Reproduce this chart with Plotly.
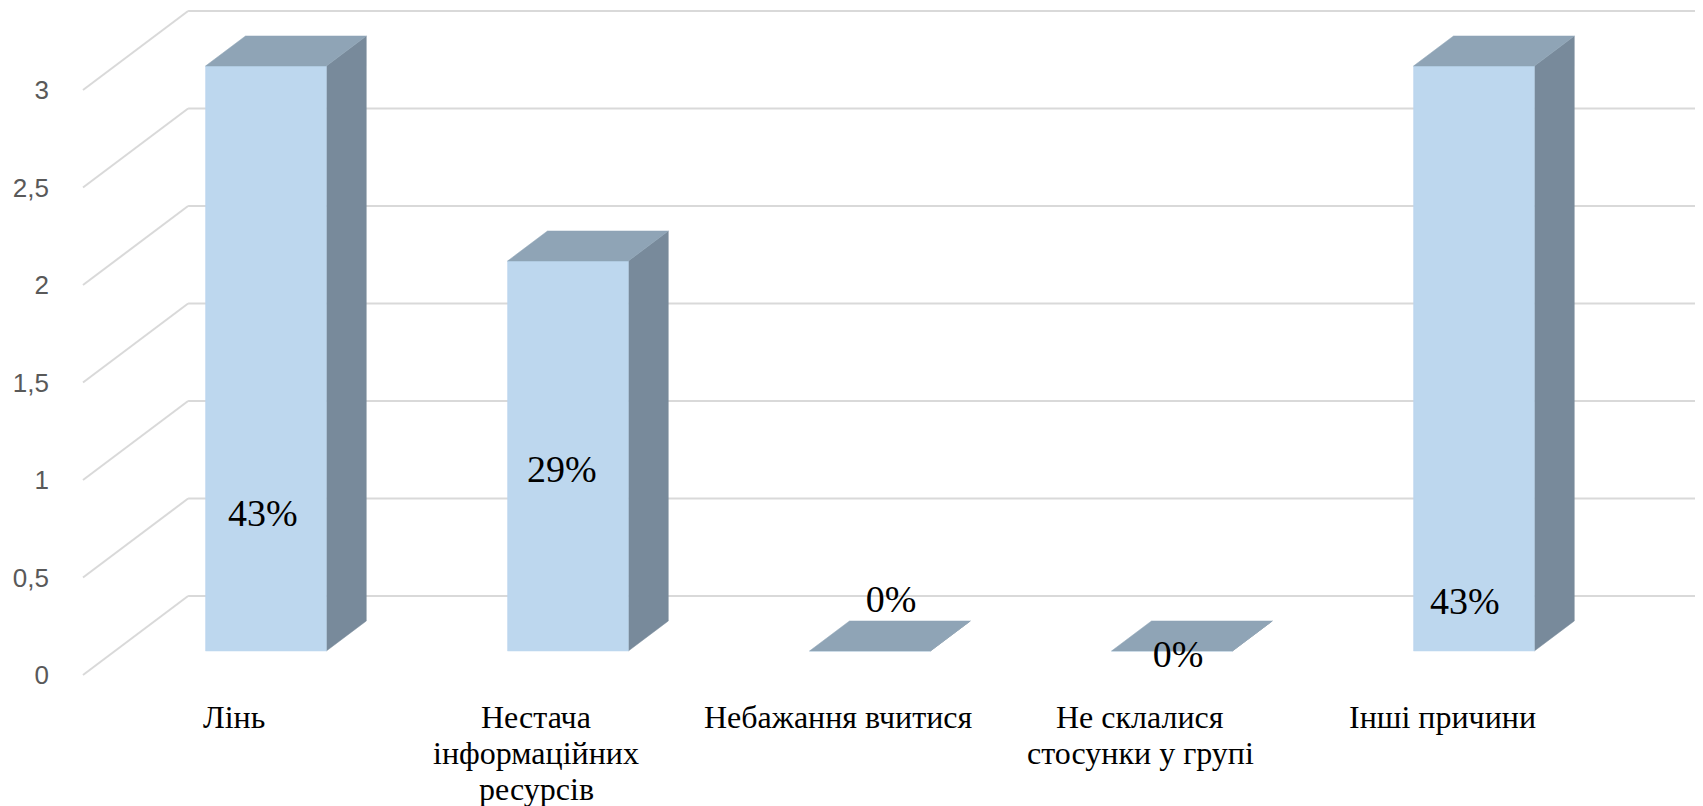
import plotly.graph_objects as go

categories = [
    "Лінь",
    "Нестача<br>інформаційних<br>ресурсів",
    "Небажання вчитися",
    "Не склалися<br>стосунки у групі",
    "Інші причини",
]
values = [3, 2, 0, 0, 3]
value_labels = ["43%", "29%", "0%", "0%", "43%"]
y_ticks = [0, 0.5, 1, 1.5, 2, 2.5, 3]
y_tick_text = ["0", "0,5", "1", "1,5", "2", "2,5", "3"]

# where the data labels sit (value units on the front plane, small x nudge)
label_y = [0.815, 1.04, 0.37, 0.09, 0.36]
label_dx = [-0.01, -0.02, 0.07, 0.02, -0.03]

# oblique "3D" look: one unit of depth moves x by DX (categories) and y by DY (values)
DX = 0.348
DY = 0.405
BAR_W = 0.4
Z_FRONT, Z_BACK = 0.304, 0.684

GRID = '#D9D9D9'
FRONT = '#BDD7EE'
TOP = '#8FA4B6'
SIDE = '#788A9B'
SERIF = 'Liberation Serif, Times New Roman, serif'


def proj(x, y, z):
    return x + DX * z, y + DY * z


def poly(points):
    xs, ys = [], []
    for p in points:
        px, py = proj(*p)
        xs.append(px)
        ys.append(py)
    xs.append(xs[0])
    ys.append(ys[0])
    return xs, ys


fig = go.Figure()

# back wall gridlines + diagonals on the left side wall
n = len(categories)
gx, gy = [], []
for t in y_ticks:
    for a, b in [((0, t, 0), (0, t, 1)), ((0, t, 1), (n, t, 1))]:
        x0, y0 = proj(*a)
        x1, y1 = proj(*b)
        gx += [x0, x1, None]
        gy += [y0, y1, None]
fig.add_trace(go.Scatter(x=gx, y=gy, mode='lines', line=dict(color=GRID, width=2),
                         hoverinfo='skip', showlegend=False))

for i, v in enumerate(values):
    x0 = i + 0.5 - BAR_W / 2
    x1 = x0 + BAR_W
    faces = [
        ([(x1, 0, Z_FRONT), (x1, 0, Z_BACK), (x1, v, Z_BACK), (x1, v, Z_FRONT)], SIDE),
        ([(x0, 0, Z_FRONT), (x1, 0, Z_FRONT), (x1, v, Z_FRONT), (x0, v, Z_FRONT)], FRONT),
        ([(x0, v, Z_FRONT), (x1, v, Z_FRONT), (x1, v, Z_BACK), (x0, v, Z_BACK)], TOP),
    ]
    for pts, col in faces:
        xs, ys = poly(pts)
        fig.add_trace(go.Scatter(x=xs, y=ys, mode='lines', fill='toself', fillcolor=col,
                                 line=dict(color=col, width=0.5), hoverinfo='skip',
                                 showlegend=False))

# data labels
lx = [i + 0.5 + DX * Z_FRONT + label_dx[i] for i in range(n)]
fig.add_trace(go.Scatter(x=lx, y=label_y, mode='text', text=value_labels,
                         textfont=dict(family=SERIF, size=38, color='black'),
                         cliponaxis=False, hoverinfo='skip', showlegend=False))

# category labels under the front edge of the floor, one annotation per line
# (Excel's line spacing is tighter than plotly's <br>)
for i, cat in enumerate(categories):
    for k, line in enumerate(cat.split('<br>')):
        fig.add_annotation(x=i + 0.5, y=0, xref='x', yref='y', text=line,
                           showarrow=False, xanchor='center', yanchor='middle',
                           yshift=-42 - 36 * k,
                           font=dict(family=SERIF, size=32, color='black'))

# the page body adds an 8px offset, so the figure is 8px smaller and margins shifted
fig.update_layout(
    width=1695, height=798,
    margin=dict(l=65, r=0, t=0, b=126),
    paper_bgcolor='white', plot_bgcolor='white',
    hovermode=False, dragmode=False,
    xaxis=dict(range=[-10 / 302, 1620 / 302], showgrid=False, zeroline=False, showline=False,
               showticklabels=False, ticks=''),
    yaxis=dict(range=[-5 / 195, 667 / 195], showgrid=False, zeroline=False, showline=False,
               tickvals=y_ticks, ticktext=y_tick_text, ticks='', ticklabelstandoff=23,
               tickfont=dict(family='Liberation Sans', size=26, color='#595959')),
)

fig.write_html("out.html")
